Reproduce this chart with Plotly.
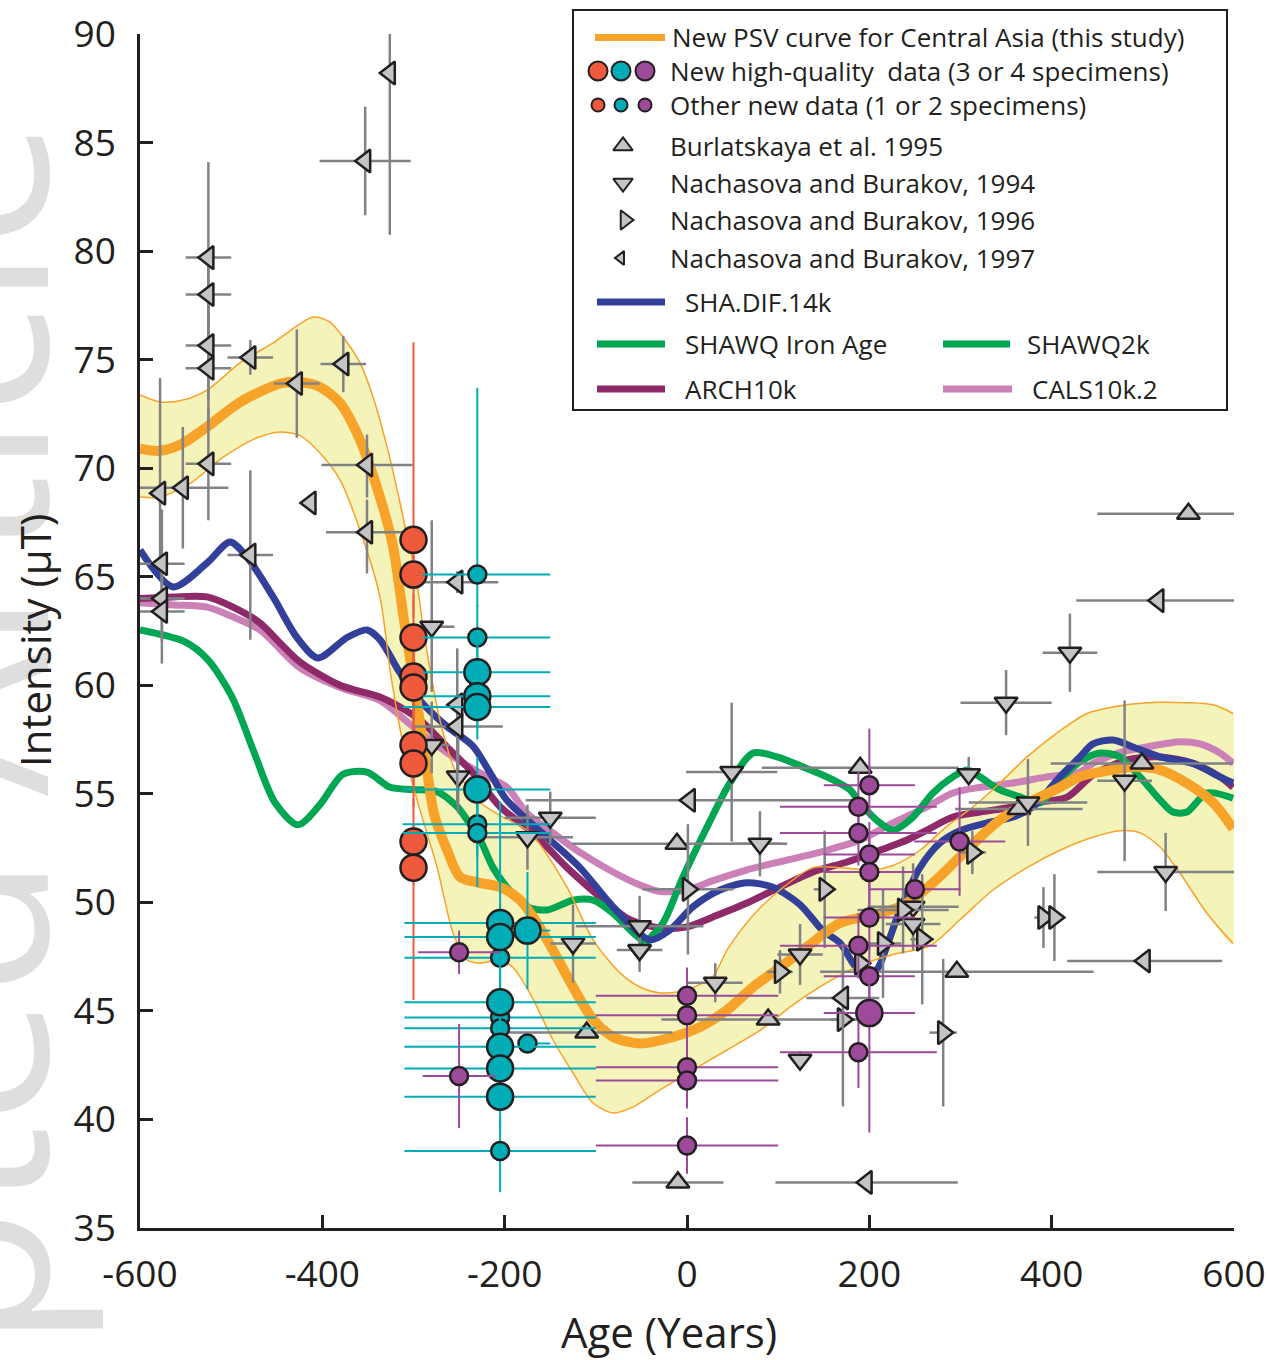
import plotly.graph_objects as go

# ---------------- curves ----------------
psv_x = [-600, -578, -555, -526.5, -490, -446, -424.5, -402.6, -380.6, -358.7, -336.8, -322.5, -311.5, -303, -293, -285, -277,
         -263, -249, -227, -205, -183, -164.5, -147, -125, -103, -81, -51.6, -15.4, 14.2, 43.9, 72.4, 102, 131.6, 167.8, 211.7,
         233.6, 255.5, 277.5, 299.4, 321.4, 343.3, 365.2, 387.2, 409, 431, 453, 489, 519, 548, 577, 599]
psv_y = [70.9, 70.8, 71.1, 71.9, 73.05, 73.9, 73.97, 73.74, 73.0, 71.3, 68.67, 66.4, 63.3, 61.0, 58.3, 56.0, 54.0,
         52.4, 51.17, 50.9, 50.7, 50.1, 49.05, 47.8, 46.1, 44.6, 43.8, 43.5, 43.8, 44.26, 45.04, 46.1, 47.0, 47.95, 49.05, 49.5,
         49.8, 50.4, 51.2, 52.1, 53.0, 53.8, 54.4, 54.85, 55.3, 55.8, 56.0, 56.24, 56.1, 55.5, 54.6, 53.4]

band_up_x = [-600, -578, -552.8, -526.5, -490.3, -454, -410, -391.6, -377.3, -358.7, -344.4, -329, -314.8, -307, -298.4,
             -287.4, -271, -254.5, -238, -227, -205, -172, -131.6, -103, -73.5, -51.6, -29.6, 0, 28.5, 43.9, 72.4, 102,
             138, 167.8, 204, 226, 255.5, 285, 313.7, 343.3, 373, 409, 438.7, 467, 504.5, 548.4, 577, 599]
band_up_y = [73.37, 73.05, 73.14, 73.6, 74.85, 75.77, 76.96, 76.73, 76.04, 74.85, 73.28, 70.98, 68.4, 66.83, 65.3,
             62.1, 58.4, 56.1, 55.2, 54.6, 54.0, 53.2, 50.7, 48.27, 46.75, 46.1, 45.83, 45.97, 46.6, 47.8, 49.4, 50.57,
             51.6, 51.6, 51.5, 51.7, 52.4, 53.5, 54.4, 55.5, 56.7, 57.9, 58.7, 59.0, 59.2, 59.2, 59.1, 58.7]
band_lo_x = [-600, -578, -545, -509, -471.7, -446.4, -424.5, -402.6, -380.6, -358.7, -336.8, -325, -310, -296, -274,
             -256.7, -241.3, -227, -205, -190.9, -172, -147, -125, -103, -81, -59, -29.6, 6.6, 43.9, 80, 116, 153.5,
             189.7, 226, 266.5, 299.4, 335.6, 373, 409, 445, 474.9, 496.9, 518.8, 540.7, 570.3, 599]
band_lo_y = [68.67, 68.67, 69.3, 70.5, 71.4, 71.67, 71.5, 70.7, 69.46, 67.15, 64.07, 60.5, 57.0, 54.7, 51.6,
             48.6, 47.35, 47.2, 47.35, 47.0, 45.8, 43.66, 42.14, 40.76, 40.3, 40.58, 41.36, 42.28, 43.2, 44.1, 45.27, 46.3,
             47.1, 47.6, 48.0, 49.2, 50.57, 51.6, 52.4, 53.0, 53.3, 53.2, 52.55, 51.35, 49.5, 48.1]

sha_x = [-600, -563.8, -526.5, -501.3, -482.6, -454, -427.8, -404.8, -372.9, -351, -336.8, -314.8, -292.9, -263.3, -234.8,
         -216, -197.5, -153.6, -117.4, -81.2, -40.6, -18.7, 6.6, 36.2, 65.8, 94.3, 123.9, 149, 167.8, 182, 195.2, 208.4,
         219.4, 233.6, 255.5, 277.5, 299.4, 329, 357.6, 379.5, 409, 431, 445.3, 467.2, 489, 518.8, 555, 584.6, 599]
sha_y = [66.23, 64.53, 65.63, 66.6, 65.9, 64.07, 62.2, 61.26, 62.2, 62.55, 62.1, 60.57, 59.3, 58.1, 57.2,
         55.96, 54.7, 53.0, 51.6, 49.8, 48.27, 48.73, 49.8, 50.57, 50.9, 50.7, 49.9, 48.7, 48.13, 47.2, 46.5, 46.9,
         48.0, 49.65, 51.6, 52.74, 53.3, 53.66, 53.93, 54.4, 55.78, 56.7, 57.3, 57.48, 57.16, 56.7, 56.4, 55.78, 55.5]

shawq_ia_x = [-600, -550.6, -525.4, -499, -473.9, -452, -426.7, -402.6, -377.3, -351, -325.8, -300.6, -274, -252, -241.3,
              -227, -212.8, -197.5, -175.5, -153.6, -125, -103, -81.2, -59.2, -46]
shawq_ia_y = [62.55, 62.0, 61.17, 59.46, 56.8, 54.6, 53.57, 54.5, 55.9, 56.0, 55.3, 55.2, 55.1, 54.4, 53.8,
              52.9, 51.6, 50.7, 49.8, 49.65, 50.1, 50.1, 49.5, 48.6, 48.13]
shawq2k_x = [-46, -26.3, -4.4, 22, 47.1, 72.4, 98.7, 127.2, 153.5, 178.8, 189.7, 211.7, 226, 247.9, 269.8, 291.7, 307,
             321.4, 343.3, 365.2, 387.2, 409, 431, 453, 474.9, 496.9, 518.8, 533, 548.4, 570.3, 599]
shawq2k_y = [48.13, 49.05, 51.17, 53.47, 55.5, 56.88, 56.7, 56.24, 55.78, 55.18, 54.58, 53.66, 53.33, 53.93, 55.04, 55.78, 56.1,
             55.78, 55.18, 54.86, 54.58, 55.64, 56.47, 56.88, 56.7, 55.78, 54.72, 54.16, 54.16, 55.04, 54.8]

arch_x = [-600, -563.8, -526.5, -498, -468.4, -446.4, -424.5, -380.6, -336.8, -314.8, -292.9, -263.3, -234.8, -205, -169,
          -131.6, -95.4, -66, -29.6, 0, 28.5, 65.8, 102, 138.2, 175.5, 211.7, 241.3, 263.2, 291.7, 321.4, 351, 379.5,
          416.8, 445.3, 482.6, 518.8, 555, 584.6, 599]
arch_y = [64.0, 64.07, 64.07, 63.6, 62.87, 61.95, 61.07, 60.0, 59.46, 59.0, 58.4, 57.16, 55.96, 54.4, 53.2,
          51.6, 50.25, 49.28, 48.82, 48.87, 49.33, 49.97, 50.7, 51.4, 51.86, 52.4, 52.87, 53.33, 53.93, 54.16, 54.35, 54.58,
          54.85, 55.87, 56.56, 56.7, 56.4, 55.78, 55.3]

cals_x = [-600, -563.8, -526.5, -498, -468.4, -424.5, -380.6, -336.8, -300.6, -263.3, -227, -197.5, -175.5, -147, -117.4,
          -81.2, -51.6, -29.6, 0, 28.5, 65.8, 109.7, 153.5, 189.7, 226, 263.2, 291.7, 321.4, 357.6, 394.8, 431, 445.3,
          474.9, 504.5, 540.7, 562.6, 584.6, 599]
cals_y = [63.8, 63.7, 63.6, 63.15, 62.55, 60.8, 59.9, 59.3, 58.1, 56.9, 55.96, 55.3, 54.1, 53.2, 52.3,
          51.4, 50.8, 50.5, 50.57, 51.0, 51.5, 51.95, 52.4, 52.87, 53.66, 54.4, 55.04, 55.3, 55.5, 55.78, 56.0, 56.4,
          56.9, 57.16, 57.4, 57.3, 56.88, 56.4]

# ---------------- published data ----------------
bur_x = [-11, -110, -10, 89, 190, 296, 364, 499, 550]
bur_y = [52.7, 44.0, 37.1, 44.6, 56.2, 46.8, 54.3, 56.4, 67.9]
bur_xerr = [115, 94, 50, 117, 108, 150, 70, 100, 100]

n94_x = [-280, -280, -251, -150, -175, -125, -52, -52, 49, 80, 31, 124, 124, 248, 248, 309, 350, 420, 374, 480, 525]
n94_y = [62.7, 57.25, 55.8, 53.9, 53.0, 48.1, 48.9, 47.8, 56.0, 52.7, 46.3, 47.6, 42.75, 49.8, 49.0, 55.9, 59.2, 61.5,
         54.6, 55.6, 51.4]
n94_xerr = [25, 20, 0, 50, 50, 25, 70, 25, 50, 30, 30, 25, 0, 50, 30, 0, 50, 30, 65, 30, 75]
n94_yp = [4.9, 2, 1.7, 1.2, 1.5, 1.8, 1.4, 1, 3.2, 1.5, 0.9, 1.4, 0.4, 2, 1, 0.8, 1.5, 1.8, 2, 3.7, 1.8]
n94_ym = [3, 1.3, 1.7, 1.2, 1.5, 1.8, 1.4, 1, 3.2, 1.5, 0.9, 1.4, 0.4, 2, 1, 0, 1.5, 1.8, 2, 3.7, 1.8]

n96_x = [1, 102, 151, 171, 237, 215, 258, 190, 281, 313, 391, 403]
n96_y = [50.6, 46.8, 50.6, 44.6, 49.65, 48.1, 48.3, 47.2, 44.0, 52.3, 49.3, 49.3]
n96_xerr = [50, 14, 12, 14, 50, 20, 13, 0, 15, 15, 10, 0]
n96_yerr = [3, 1, 2.7, 0, 2, 2.5, 3, 0, 3.4, 1, 1.4, 2]

n97_x = [-326, -353, -525, -525, -525, -525, -525, -578, -553, -576, -576, -576, -479, -479, -428, -377, -351, -351,
         -413, -252, -252, -252, 3, 171, 197, 502, 517]
n97_y = [88.2, 84.15, 79.7, 78.0, 75.65, 74.6, 70.2, 68.85, 69.1, 65.6, 64.0, 63.4, 66.0, 75.1, 73.9, 74.8, 70.15, 67.05,
         68.4, 64.75, 59.1, 58.1, 54.7, 45.6, 37.1, 47.3, 63.9]
n97_xerr = [0, 50, 25, 25, 25, 25, 25, 0, 50, 25, 25, 25, 25, 25, 25, 25, 50, 45, 4, 45, 0, 50, 180, 40, 100, 85, 90]
n97_yp = [1.85, 2.5, 4.4, 2, 2.5, 2.5, 2.6, 5.3, 2.8, 2.5, 2, 2, 3.9, 0.8, 2.5, 1.3, 1.4, 1.5, 0, 0.5, 0, 3.6, 0, 2.5, 0, 0, 0]
n97_ym = [7.45, 2.5, 3, 2, 2.5, 2.5, 2.6, 3, 2.8, 2.5, 2, 2.4, 3.9, 0.8, 2.5, 1.3, 1.5, 1.9, 0, 0.5, 0, 3.6, 0, 5, 0, 0, 0]

# ---------------- new data ----------------
red_x = [-300, -300, -300, -300, -300, -300, -300, -300, -300]
red_y = [66.7, 65.1, 62.2, 60.4, 59.9, 57.25, 56.4, 52.8, 51.6]
red_yp = [9.1, 2, 2, 2, 2, 2, 2, 2, 2]
red_ym = [2, 2, 2, 2, 2, 2, 2, 2, 6.1]

teal_big_x = [-230, -230, -230, -230, -205, -205, -205, -205, -205, -205, -175]
teal_big_y = [60.6, 59.5, 59.0, 55.2, 49.05, 48.4, 45.4, 43.35, 42.35, 41.05, 48.7]
teal_big_xp = [80, 80, 80, 80, 105, 105, 105, 105, 105, 105, 25]
teal_big_xm = [60, 60, 82, 82, 105, 105, 105, 105, 105, 105, 0]
teal_big_yp = [1.5, 1.5, 1.5, 1.5, 5.6, 1.5, 1.5, 1.5, 1.5, 1.5, 2.7]
teal_big_ym = [1.5, 1.5, 1.5, 1.5, 1.5, 1.5, 1.5, 1.5, 1.5, 1.5, 2.7]

teal_sm_x = [-230, -230, -230, -230, -205, -205, -205, -205, -175]
teal_sm_y = [65.1, 62.2, 53.6, 53.2, 47.45, 44.7, 44.2, 38.55, 43.5]
teal_sm_xp = [80, 80, 80, 80, 105, 105, 105, 105, 25]
teal_sm_xm = [60, 60, 82, 82, 105, 105, 105, 105, 0]
teal_sm_yp = [8.6, 1.5, 1.5, 1.5, 1.5, 1.5, 1.5, 1.5, 0]
teal_sm_ym = [1.5, 1.5, 1.5, 2.5, 1.5, 1.5, 1.5, 1.9, 0]

pur_big_x = [200]
pur_big_y = [44.9]
pur_big_xerr = [50]
pur_big_yp = [1.5]
pur_big_ym = [5.5]

pur_sm_x = [-250, -250, 0, 0, 0, 0, 0, 200, 188, 188, 200, 200, 250, 200, 188, 200, 188, 299]
pur_sm_y = [47.7, 42.0, 45.7, 44.8, 42.4, 41.8, 38.8, 55.4, 54.4, 53.2, 52.2, 51.4, 50.6, 49.3, 48.0, 46.6, 43.1, 52.8]
pur_sm_xerr = [45, 40, 100, 100, 100, 100, 100, 50, 86, 86, 50, 50, 50, 50, 86, 50, 86, 50]
pur_sm_yp = [1, 2.4, 1.3, 1.3, 1.3, 1.3, 1.3, 2.6, 1.6, 1.5, 1.5, 1.5, 0.5, 1.5, 1.5, 1.5, 1.5, 2.5]
pur_sm_ym = [1, 2.4, 1.3, 1.3, 1.3, 1.3, 1.3, 1.5, 1.5, 1.5, 1.5, 1.5, 0.5, 1.5, 1.5, 1.5, 1.65, 2.5]

x_ticks = [-600, -400, -200, 0, 200, 400, 600]
x_ticktext = ["-600", "-400", "-200", "0", "200", "400", "600"]
y_ticks = [35, 40, 45, 50, 55, 60, 65, 70, 75, 80, 85, 90]

# ---------------- styles ----------------
FONT = "Open Sans"
DARK = "#231F20"
ORANGE = "#F7A229"
BLUE = "#33409A"
GREEN = "#00A651"
PURPLE_L = "#8E2A6A"
PINK = "#CC80B8"
RED = "#EF5A3C"
TEAL = "#00ACB5"
PURP = "#9D4A9A"
GRAYBAR = "#808285"
GRAYFILL = "#C4C4C4"

fig = go.Figure()

def curve(x, y, color, width, name):
    fig.add_trace(go.Scatter(x=x, y=y, mode="lines", name=name, showlegend=False,
                             line=dict(color=color, width=width, shape="spline", smoothing=0.8)))

# uncertainty band (below the model curves)
fig.add_trace(go.Scatter(x=band_up_x + band_lo_x[::-1], y=band_up_y + band_lo_y[::-1], mode="lines",
                         fill="toself", fillcolor="#F4F4BA", line=dict(width=0, shape="spline", smoothing=0.8),
                         showlegend=False, hoverinfo="skip"))

curve(cals_x, cals_y, PINK, 7, "CALS10k.2")
curve(arch_x, arch_y, PURPLE_L, 7, "ARCH10k")
curve(shawq_ia_x, shawq_ia_y, GREEN, 7, "SHAWQ Iron Age")
curve(shawq2k_x, shawq2k_y, GREEN, 7, "SHAWQ2k")
curve(sha_x, sha_y, BLUE, 7, "SHA.DIF.14k")

curve(band_up_x, band_up_y, ORANGE, 1.5, "upper")
curve(band_lo_x, band_lo_y, ORANGE, 1.5, "lower")
curve(psv_x, psv_y, ORANGE, 10, "PSV")

def errdict(p, m, color, th):
    return dict(type="data", array=p, arrayminus=m, symmetric=False, color=color, thickness=th, width=0)

def tri(x, y, xe, yp, ym, symbol, size):
    fig.add_trace(go.Scatter(
        x=x, y=y, mode="markers", showlegend=False,
        error_x=errdict(xe, xe, GRAYBAR, 2.5), error_y=errdict(yp, ym, GRAYBAR, 2.5),
        marker=dict(symbol=symbol, size=size, color=GRAYFILL, line=dict(color=DARK, width=2.5))))

tri(bur_x, bur_y, bur_xerr, [0] * len(bur_x), [0] * len(bur_x), "triangle-up", 20)
tri(n94_x, n94_y, n94_xerr, n94_yp, n94_ym, "triangle-down", 20)
tri(n96_x, n96_y, n96_xerr, n96_yerr, n96_yerr, "triangle-right", 20)
tri(n97_x, n97_y, n97_xerr, n97_yp, n97_ym, "triangle-left", 20)

def circ(x, y, xp, xm, yp, ym, color, size):
    fig.add_trace(go.Scatter(
        x=x, y=y, mode="markers", showlegend=False,
        error_x=errdict(xp, xm, color, 2), error_y=errdict(yp, ym, color, 2),
        marker=dict(symbol="circle", size=size, color=color, line=dict(color=DARK, width=2.5))))

circ(red_x, red_y, [0] * 9, [0] * 9, red_yp, red_ym, RED, 26)
circ(teal_sm_x, teal_sm_y, teal_sm_xp, teal_sm_xm, teal_sm_yp, teal_sm_ym, TEAL, 18)
circ(teal_big_x, teal_big_y, teal_big_xp, teal_big_xm, teal_big_yp, teal_big_ym, TEAL, 26)
circ(pur_sm_x, pur_sm_y, pur_sm_xerr, pur_sm_xerr, pur_sm_yp, pur_sm_ym, PURP, 18)
circ(pur_big_x, pur_big_y, pur_big_xerr, pur_big_xerr, pur_big_yp, pur_big_ym, PURP, 26)

# ---------------- legend (overlay axes in pixel units) ----------------
def leg_line(x0, x1, y, color, width):
    fig.add_trace(go.Scatter(x=[x0, x1], y=[y, y], mode="lines", xaxis="x2", yaxis="y2", showlegend=False,
                             line=dict(color=color, width=width), hoverinfo="skip"))

def leg_marker(xs, ys, colors, symbol, size):
    fig.add_trace(go.Scatter(x=xs, y=ys, mode="markers", xaxis="x2", yaxis="y2", showlegend=False, hoverinfo="skip",
                             marker=dict(symbol=symbol, size=size, color=colors, line=dict(color=DARK, width=2))))

leg_line(595, 665, 37, ORANGE, 8)
leg_marker([598, 621, 645], [71, 71, 71], [RED, TEAL, PURP], "circle", 19)
leg_marker([598, 621, 645], [105, 105, 105], [RED, TEAL, PURP], "circle", 13)
leg_marker([623], [146], [GRAYFILL], "triangle-up", 17)
leg_marker([623], [183], [GRAYFILL], "triangle-down", 17)
leg_marker([625], [220], [GRAYFILL], "triangle-right", 17)
leg_marker([621], [258], [GRAYFILL], "triangle-left", 12)
leg_line(597, 665, 302, BLUE, 7)
leg_line(597, 665, 344, GREEN, 7)
leg_line(943, 1010, 344, GREEN, 7)
leg_line(597, 665, 389, PURPLE_L, 7)
leg_line(943, 1012, 389, PINK, 7)

leg_texts = [
    (670, 37, "New PSV curve for Central Asia (this study)"),
    (668, 71, "New high-quality  data (3 or 4 specimens)"),
    (668, 105, "Other new data (1 or 2 specimens)"),
    (668, 146, "Burlatskaya et al. 1995"),
    (668, 183, "Nachasova and Burakov, 1994"),
    (668, 220, "Nachasova and Burakov, 1996"),
    (668, 258, "Nachasova and Burakov, 1997"),
    (683, 302, "SHA.DIF.14k"),
    (683, 344, "SHAWQ Iron Age"),
    (1025, 344, "SHAWQ2k"),
    (683, 389, "ARCH10k"),
    (1030, 389, "CALS10k.2"),
]
annotations = []
for tx, ty, t in leg_texts:
    annotations.append(dict(x=tx, y=ty, xref="x2", yref="y2", text=t, showarrow=False, xanchor="left",
                            yanchor="middle", font=dict(family=FONT, size=26, color=DARK)))

annotations.append(dict(x=-0.166, y=0.207, xref="paper", yref="paper", text="Accepted Article", showarrow=False,
                        textangle=-90, xanchor="center", yanchor="middle",
                        font=dict(family=FONT, size=230, color="#DEDEDE")))
annotations.append(dict(x=-0.096, y=0.4925, xref="paper", yref="paper", text="Intensity (μT)", showarrow=False,
                        textangle=-90, xanchor="center", yanchor="middle",
                        font=dict(family=FONT, size=42, color=DARK)))
annotations.append(dict(x=0.4835, y=-0.0865, xref="paper", yref="paper", text="Age (Years)", showarrow=False,
                        xanchor="center", yanchor="middle", font=dict(family=FONT, size=42, color=DARK)))

fig.update_layout(
    width=1268, height=1360,
    margin=dict(l=140, r=34, t=34, b=132, autoexpand=False),
    paper_bgcolor="white", plot_bgcolor="white",
    font=dict(family=FONT, color=DARK),
    showlegend=False,
    xaxis=dict(range=[-600, 600], tickvals=x_ticks, ticktext=x_ticktext, showline=True, linecolor=DARK,
               linewidth=2.5, ticks="inside", ticklen=13, tickwidth=2.5, tickcolor=DARK, showgrid=False,
               zeroline=False, tickfont=dict(family=FONT, size=37, color=DARK), ticklabelstandoff=12,
               automargin=False),
    yaxis=dict(range=[35, 90], tickvals=y_ticks, showline=True, linecolor=DARK, linewidth=2.5, ticks="inside",
               ticklen=13, tickwidth=2.5, tickcolor=DARK, showgrid=False, zeroline=False,
               tickfont=dict(family=FONT, size=37, color=DARK), ticklabelstandoff=14, automargin=False),
    xaxis2=dict(overlaying="x", range=[140, 1234], visible=False, fixedrange=True, automargin=False),
    yaxis2=dict(overlaying="y", range=[1228, 34], visible=False, fixedrange=True, automargin=False),
    annotations=annotations,
    shapes=[dict(type="rect", xref="paper", yref="paper", x0=0.3958, x1=0.9936, y0=0.6851, y1=1.0201,
                 line=dict(color=DARK, width=2), fillcolor="white", layer="below")],
)

fig.write_html("out.html", config={"displayModeBar": False},
               post_script="document.body.style.margin='0';document.body.style.overflow='hidden';")
